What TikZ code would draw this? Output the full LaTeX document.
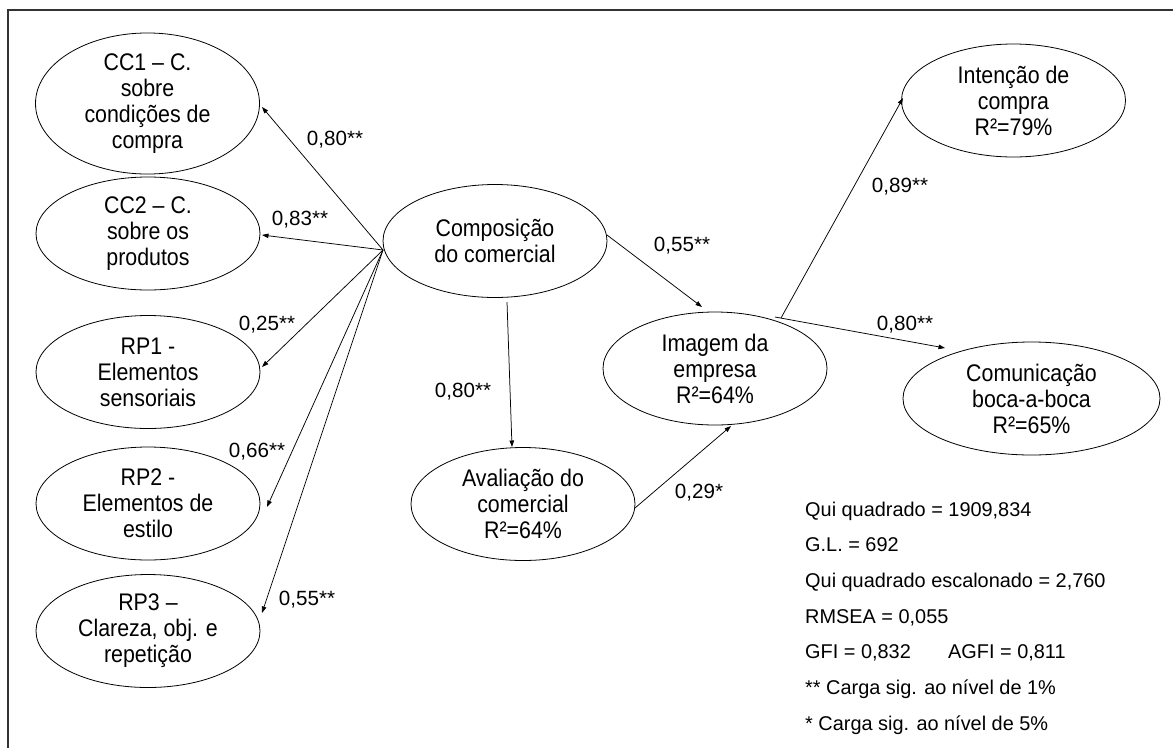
\documentclass[tikz,border=0pt]{standalone}
\usepackage{fontspec}
\setmainfont{Liberation Sans}
\newfontfamily\nodesans{Liberation Sans}[FakeStretch=0.89]
\usetikzlibrary{arrows.meta,calc,shapes.geometric}
\begin{document}
\begin{tikzpicture}[x=1pt,y=-1pt,
  latent/.style={draw=black, line width=0.8pt, ellipse, minimum width=224pt,
    minimum height=113pt, inner sep=0pt, align=center,
    font=\nodesans\fontsize{24}{26}\selectfont},
  link/.style={draw, line width=0.75pt, -{Triangle[length=6.5pt,width=4.5pt]}},
  coef/.style={inner sep=0pt, font=\fontsize{20.6}{24}\selectfont},
  stat/.style={anchor=base west, inner sep=0pt, font=\fontsize{19.9}{23}\selectfont}]

% page size and the partial frame (top and left edges)
\useasboundingbox (0,0) rectangle (1173,748);
\fill[white] (0,0) rectangle (1173,748);
\draw[line width=1.1pt, black!80] (1173,10) -- (8,10) -- (8,748);

% latent constructs
\node[latent] (cc1) at (147.5,103.5) {CC1 – C.\\sobre\\condições de\\compra};
\node[latent] (cc2) at (148,233.5) {CC2 – C.\\sobre os\\produtos};
\node[latent] (rp1) at (148,372) {RP1 -\\Elementos\\sensoriais};
\node[latent] (rp2) at (148,503.5) {RP2 -\\Elementos de\\estilo};
\node[latent] (rp3) at (148,631) {RP3 –\\Clareza, obj. e\\repetição};
\node[latent] (comp) at (495,241) {Composição\\do comercial};
\node[latent] (aval) at (523,504) {Avaliação do\\comercial\\R²=64\%};
\node[latent] (imag) at (715,368.5) {Imagem da\\empresa\\R²=64\%};
\node[latent] (inten) at (1013.5,100.5) {Intenção de\\compra\\R²=79\%};
\node[latent, minimum width=257pt] (comm) at (1031.5,398.5) {Comunicação\\boca-a-boca\\R²=65\%};

% loadings of the second-order factor
\draw[link] ($(comp)+(-112,9)$) -- ($(cc1)+(114.5,3.5)$);
\draw[link] ($(comp)+(-112,9)$) -- ($(cc2)+(114,1.5)$);
\draw[link] ($(comp)+(-112,9)$) -- ($(rp1)+(114,-5)$);
\draw[link] ($(comp)+(-112,9)$) -- ($(rp2)+(119,3.5)$);
\draw[link] ($(comp)+(-112,9)$) -- ($(rp3)+(114,-18)$);

% structural paths
\draw[link] ($(comp)+(12,61)$) -- ($(aval)+(-11,-57)$);
\draw[link] ($(comp)+(112,-6)$) -- ($(imag)+(-13,-61.5)$);
\draw[link] ($(aval)+(112,4)$) -- ($(imag)+(16,57.5)$);
\draw[link] ($(imag)+(66,-50.5)$) -- ($(inten)+(-110.5,-2.5)$);
\draw[link] ($(imag)+(60,-51.5)$) -- ($(comm)+(-86.5,-50.5)$);

% path coefficients
\node[coef] (l1) at (335,140) {0,80**};
\node[coef] (l2) at (300,220) {0,83**};
\node[coef] (l3) at (267,325) {0,25**};
\node[coef] (l4) at (257,452) {0,66**};
\node[coef] (l5) at (307,600) {0,55**};
\node[coef] (l6) at (463,392) {0,80**};
\node[coef] (l7) at (682,246) {0,55**};
\node[coef] (l8) at (699,493) {0,29*};
\node[coef] (l9) at (900,187) {0,89**};
\node[coef] (l10) at (905,325) {0,80**};

% fit indices
\node[stat] (s1) at (805,516) {Qui quadrado = 1909,834};
\node[stat] (s2) at (805,551.7) {G.L. = 692};
\node[stat] (s3) at (805,587.4) {Qui quadrado escalonado = 2,760};
\node[stat] (s4) at (805,623) {RMSEA = 0,055};
\node[stat] (s5) at (805,658.8) {GFI = 0,832};
\node[stat] (s6) at (948,658.8) {AGFI = 0,811};
\node[stat] (s7) at (805,694.5) {** Carga sig. ao nível de 1\%};
\node[stat] (s8) at (805,730) {* Carga sig. ao nível de 5\%};
\end{tikzpicture}
\end{document}
